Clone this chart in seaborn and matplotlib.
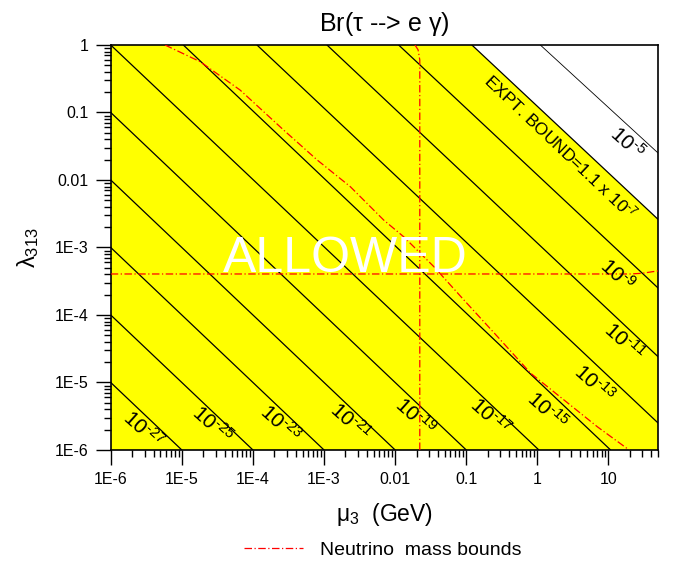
import matplotlib
matplotlib.use('Agg')
import matplotlib.pyplot as plt
from matplotlib.lines import Line2D
import seaborn as sns
import pandas as pd


# Br contour lines (exponent of 10), end points (mu in GeV, lambda_313)
levels = [-27, -25, -23, -21, -19, -17, -15, -13, -11, -9]
mu_start = [1e-6, 1e-6, 1e-6, 1e-6, 1e-6, 1e-6, 1.05e-5, 1.14e-4, 1.1e-3, 1.12e-2]
lam_start = [1e-5, 1e-4, 1e-3, 1e-2, 0.1, 1, 1, 1, 1, 1]
mu_end = [1e-5, 1e-4, 1e-3, 1e-2, 0.1, 1.05, 10.7, 50, 50, 50]
lam_end = [1e-6, 1e-6, 1e-6, 1e-6, 1e-6, 1e-6, 1e-6, 2.5e-6, 2.4e-5, 2.5e-4]

# where the contour labels sit
label_mu = [2.9e-6, 2.65e-5, 2.43e-4, 2.34e-3, 1.93e-2, 0.22, 1.38, 6.3, 16.6, 13.4]
label_lam = [2.0e-6, 2.35e-6, 2.5e-6, 2.63e-6, 3.1e-6, 3.1e-6, 3.9e-6, 9.7e-6, 4.0e-5, 3.9e-4]

# experimental bound Br = 1.1e-7 and the 1e-5 contour
bound_mu = [0.12, 50]
bound_lam = [1, 2.6e-3]
br5_mu = [1.1, 50]
br5_lam = [1, 0.025]

# neutrino mass bounds
nu_curve_mu = [5.8e-6, 1.81e-5, 6.6e-5, 2.7e-4, 8.0e-4, 2.34e-3, 6.9e-3, 0.0132,
               0.035, 0.0925, 0.274, 0.805, 2.37, 7.0, 19.5]
nu_curve_lam = [1, 0.566, 0.215, 0.055, 0.0198, 7.96e-3, 2.55e-3, 1.44e-3,
                5.2e-4, 1.67e-4, 4.8e-5, 1.37e-5, 5.5e-6, 2.2e-6, 1e-6]
nu_h_mu = [1e-6, 20, 30, 40, 50]
nu_h_lam = [4.05e-4, 4.05e-4, 4.15e-4, 4.35e-4, 4.5e-4]
nu_v_mu = [0.0222, 0.0222, 0.021, 0.019]
nu_v_lam = [1e-6, 0.6, 0.85, 1]

x_ticks = [1e-6, 1e-5, 1e-4, 1e-3, 1e-2, 0.1, 1, 10]
x_labels = ['1E-6', '1E-5', '1E-4', '1E-3', '0.01', '0.1', '1', '10']
y_ticks = [1e-6, 1e-5, 1e-4, 1e-3, 1e-2, 0.1, 1]
y_labels = ['1E-6', '1E-5', '1E-4', '1E-3', '0.01', '0.1', '1']

XMIN, XMAX, YMIN, YMAX = 1e-6, 50, 1e-6, 1


sns.set_theme(style='white')
plt.rcParams['font.family'] = ['Liberation Sans', 'DejaVu Sans']
plt.rcParams['mathtext.fontset'] = 'custom'
plt.rcParams['mathtext.rm'] = 'Liberation Sans'
plt.rcParams['mathtext.it'] = 'Liberation Sans'
plt.rcParams['mathtext.bf'] = 'Liberation Sans:bold'
for key in ['text.color', 'axes.labelcolor', 'xtick.color', 'ytick.color']:
    plt.rcParams[key] = 'black'

fig = plt.figure(figsize=(6.73, 5.61), dpi=100)
ax = fig.add_axes([0.1645, 0.1979, 0.8135, 0.7219])
ax.set_xscale('log')
ax.set_yscale('log')

# allowed region (yellow) below the experimental bound
poly_mu = [XMIN, XMIN] + bound_mu + [XMAX]
poly_lam = [YMIN, YMAX] + bound_lam + [YMIN]
ax.fill(poly_mu, poly_lam, color='#ffff00', lw=0, zorder=0)

# contour lines
rows = []
for i, lev in enumerate(levels):
    rows.append(dict(level=lev, mu=mu_start[i], lam=lam_start[i]))
    rows.append(dict(level=lev, mu=mu_end[i], lam=lam_end[i]))
rows += [dict(level=-7, mu=m, lam=l) for m, l in zip(bound_mu, bound_lam)]
df_lines = pd.DataFrame(rows)
sns.lineplot(data=df_lines, x='mu', y='lam', units='level', estimator=None,
             sort=False, color='black', lw=0.9, ax=ax, zorder=2)
ax.plot(br5_mu, br5_lam, color='black', lw=0.6, zorder=2)

# neutrino mass bounds
dashdot = (0, (6, 2, 1, 2))
nu_style = dict(color='red', lw=0.9, ls=dashdot, zorder=3)
ax.plot(nu_curve_mu, nu_curve_lam, **nu_style)
ax.plot(nu_h_mu, nu_h_lam, **nu_style)
ax.plot(nu_v_mu, nu_v_lam, **nu_style)

# contour labels
for lev, m, l in zip(levels, label_mu, label_lam):
    ax.text(m, l, r'$10^{\text{-}%d}$' % -lev, fontsize=15, rotation=-42,
            ha='center', va='center', rotation_mode='anchor', zorder=4)
ax.text(18.5, 0.035, r'$10^{\text{-}5}$', fontsize=15, rotation=-42,
        ha='center', va='center', rotation_mode='anchor', zorder=4)
ax.text(2.13, 0.031, r'EXPT. BOUND=1.1 x 10$^{\text{-}7}$', fontsize=12.5, rotation=-43.5,
        ha='center', va='center', rotation_mode='anchor', zorder=4)

ax.text(1.96e-3, 4.4e-4, 'ALLOWED', color='white', fontsize=36,
        ha='center', va='baseline', zorder=4)

ax.set_xlim(XMIN, XMAX)
ax.set_ylim(YMIN, YMAX)
ax.set_xticks(x_ticks, x_labels)
ax.set_yticks(y_ticks, y_labels)
ax.tick_params(which='major', direction='out', length=11, width=1, color='black',
               labelsize=11.5, pad=5, bottom=True, left=True, top=False, right=False)
ax.tick_params(which='minor', direction='out', length=5, width=1, color='black',
               bottom=True, left=True, top=False, right=False)
for sp in ax.spines.values():
    sp.set_color('black')
    sp.set_linewidth(1.2)

ax.set_xlabel(r'$\mu_3$  (GeV)', fontsize=16.5, labelpad=10)
ax.set_ylabel(r'$\lambda_{313}$', fontsize=17, labelpad=10)
ax.set_title(r'Br($\tau$ --> e $\gamma$)', fontsize=18, pad=10)

handle = Line2D([], [], color='red', lw=0.9, ls=dashdot)
fig.legend([handle], ['Neutrino  mass bounds'], loc='center',
           bbox_to_anchor=(0.569, 0.02), frameon=False, fontsize=14,
           handlelength=3.0, handletextpad=0.9)

fig.savefig('out.png', dpi=100, facecolor='white')
